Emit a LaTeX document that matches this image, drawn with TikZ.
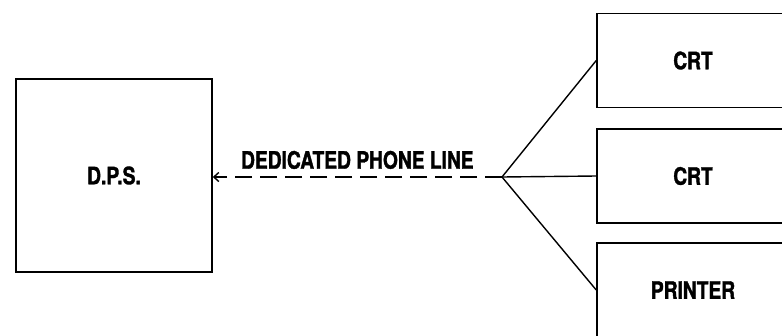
\documentclass[tikz,border=0pt]{standalone}
\usepackage{fontspec}
\setsansfont{TeX Gyre Heros}[FakeStretch=0.8,FakeBold=1.5]
\usetikzlibrary{arrows.meta,positioning}
\tikzset{
  unit-box/.style={draw=black, line width=1.5pt, fill=white, align=center,
    font=\sffamily\bfseries\fontsize{24}{26}\selectfont, inner sep=0pt},
  link-line/.style={line width=1.4pt, draw=black},
  phone-line/.style={line width=1.4pt, dash pattern=on 17pt off 8pt}
}

\begin{document}
\begin{tikzpicture}[x=1pt, y=-1pt]
  \clip (0,0) rectangle (782,335);
  \fill[white] (0,0) rectangle (782,335);
  \node[unit-box, minimum width=196pt, minimum height=193pt] (dps) at (114,175.5) {D.P.S.};
  \foreach \name/\y/\title in {crta/60.5/CRT, crtb/176/CRT, prn/290/PRINTER} {
    \node[unit-box, minimum width=192pt, minimum height=94pt] (\name) at (693,\y) {\title};
  }
  \coordinate (junc) at (502,177);
  \draw[link-line] (junc) -- (crta.west);
  \draw[link-line] (junc) -- (crtb.west);
  \draw[link-line] (junc) -- (prn.west);
  \draw[phone-line, -{Straight Barb[length=5pt,width=9pt]}] (junc) -- node[above=4pt, font=\sffamily\bfseries\fontsize{24}{26}\selectfont] {DEDICATED PHONE LINE} (dps.east |- junc);
\end{tikzpicture}
\end{document}
